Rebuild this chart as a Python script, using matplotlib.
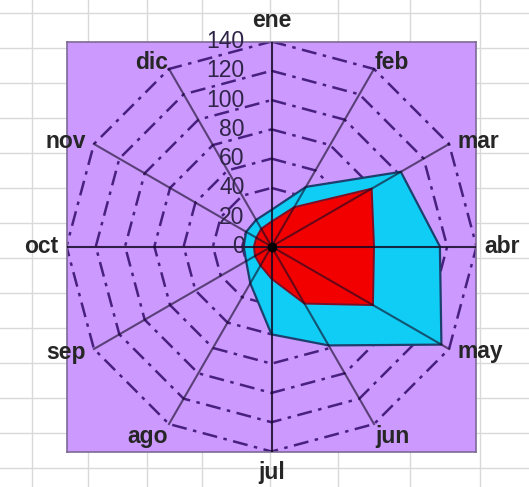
import numpy as np
import matplotlib
matplotlib.use("Agg")
import matplotlib.pyplot as plt

# ---- data ----
months = ['ene', 'feb', 'mar', 'abr', 'may', 'jun', 'jul', 'ago', 'sep', 'oct', 'nov', 'dic']
serie_cyan = [25, 47, 102, 115, 134, 78, 60, 29, 20, 19, 20, 21]
serie_red = [17, 31, 79, 70, 80, 45, 22, 15, 13, 12, 12, 14]
ticks = [0, 20, 40, 60, 80, 100, 120, 140]
rmax = 140

plt.rcParams['font.family'] = ['Liberation Sans', 'DejaVu Sans']

W, H = 529, 487
fig = plt.figure(figsize=(W / 100, H / 100), dpi=100)

# spreadsheet background with cell grid
bg = fig.add_axes([0, 0, 1, 1])
bg.set_xlim(0, W)
bg.set_ylim(H, 0)
bg.axis('off')
for x in [32, 88, 147, 202, 270, 338, 410, 480]:
    bg.axvline(x, color='#d9d9d9', lw=1.0)
for y in np.arange(13, H, 35):
    bg.axhline(y, color='#d9d9d9', lw=1.0)

# plot area
left_px, top_px, side_px = 66.5, 41.5, 410
ax = fig.add_axes([left_px / W, 1 - (top_px + side_px) / H, side_px / W, side_px / H])
ax.set_facecolor('#CC99FF')
ax.set_xlim(-rmax, rmax)
ax.set_ylim(-rmax, rmax)
ax.set_xticks([])
ax.set_yticks([])
for sp in ax.spines.values():
    sp.set_color('#7d6a95')
    sp.set_linewidth(1.2)

n = len(months)
theta = np.pi / 2 - 2 * np.pi * np.arange(n) / n
ct, st = np.cos(theta), np.sin(theta)

def closed(v):
    v = np.asarray(v, dtype=float)
    return np.append(v, v[0])

# gridline polygons (long dash - dot)
for t in ticks[1:]:
    ax.plot(closed(t * ct), closed(t * st), color='#48207e', lw=1.8,
            ls=(0, (6, 2.6, 1.4, 2.6)), zorder=2)

# series
ax.fill(closed(np.array(serie_cyan) * ct), closed(np.array(serie_cyan) * st),
        facecolor='#0FCDF5', edgecolor='#1d3f6e', lw=1.6, zorder=3)
ax.fill(closed(np.array(serie_red) * ct), closed(np.array(serie_red) * st),
        facecolor='#F20000', edgecolor='#7a1028', lw=1.4, zorder=4)

# spokes
for i in range(n):
    main = abs(ct[i]) < 0.01 or abs(st[i]) < 0.01
    ax.plot([0, rmax * ct[i]], [0, rmax * st[i]], color='#150a25',
            alpha=0.85 if main else 0.62, lw=1.5, zorder=5)
ax.plot([0], [0], 'o', color='black', ms=6, zorder=6)

# value labels along the first spoke
for t in ticks:
    ax.annotate(str(t), (0, t), xytext=(-19.5, 0), textcoords='offset points',
                ha='right', va='center', fontsize=16.5, color='#2f2448', zorder=7,
                annotation_clip=False)

# category labels
px = 0.72
for i, m in enumerate(months):
    c, s = ct[i], st[i]
    if abs(c) < 0.1:
        ha, va, dx, dy = 'center', 'center', 0, np.sign(s) * 21
    elif abs(c) < 0.6:
        ha = 'left' if c > 0 else 'right'
        va = 'baseline' if s > 0 else 'top'
        dx, dy = np.sign(c) * 1, (0 if s > 0 else -1)
    else:
        ha = 'left' if c > 0 else 'right'
        va = 'center'
        dx = np.sign(c) * 8
        dy = np.sign(s) * 3 if abs(s) > 0.1 else 0
    ax.annotate(m, (rmax * c, rmax * s), xytext=(dx * px, dy * px),
                textcoords='offset points', ha=ha, va=va, fontsize=16.5,
                fontweight='bold', color='#262626', annotation_clip=False, zorder=7)

fig.savefig('out.png', dpi=100)
